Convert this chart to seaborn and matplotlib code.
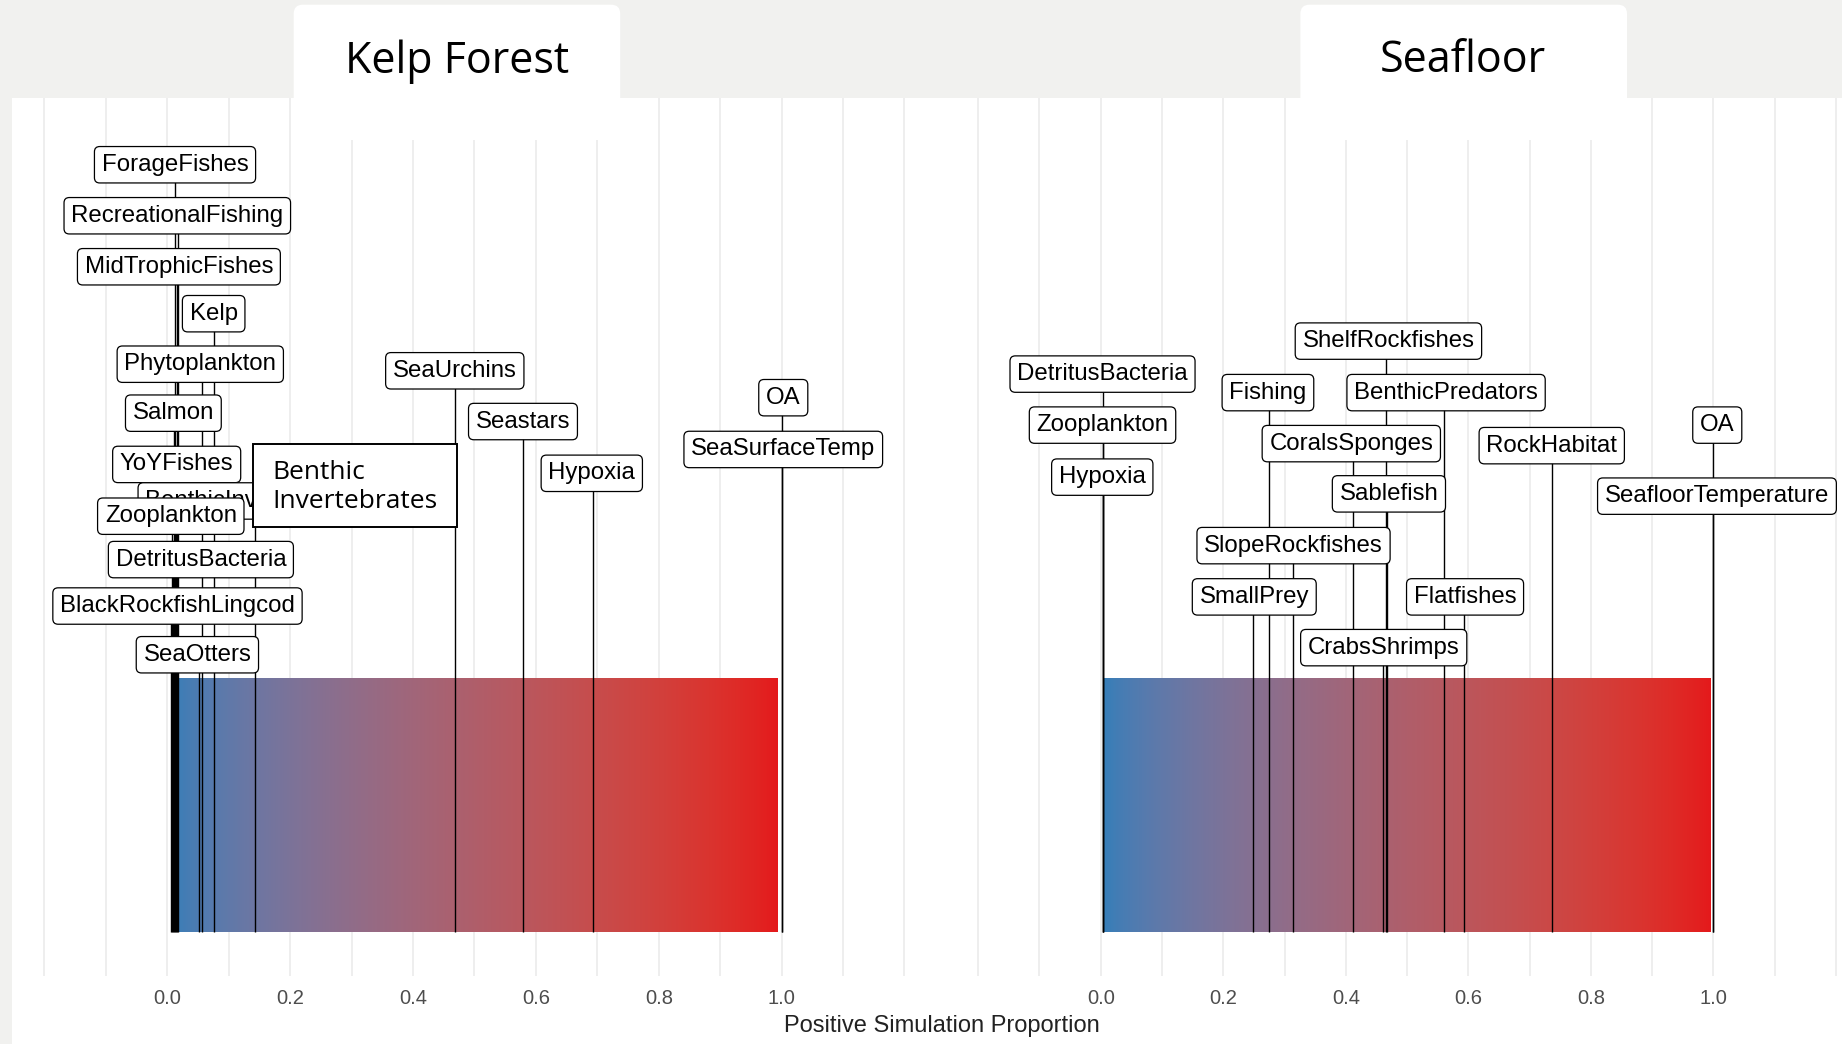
import numpy as np
import pandas as pd
import matplotlib
matplotlib.use("Agg")
import matplotlib.pyplot as plt
import matplotlib.patches as mpatches
import matplotlib.transforms as mtransforms
import seaborn as sns

# --- DATA ---
panel_titles = ["Kelp Forest", "Seafloor"]

kelp_nodes = ["ForageFishes", "RecreationalFishing", "MidTrophicFishes", "Kelp",
              "Phytoplankton", "Salmon", "YoYFishes", "BenthicInvertebrates",
              "Zooplankton", "DetritusBacteria", "BlackRockfishLingcod", "SeaOtters",
              "SeaUrchins", "Seastars", "Hypoxia", "OA", "SeaSurfaceTemp"]
kelp_values = [0.0125, 0.018, 0.0165, 0.076,
               0.056, 0.011, 0.014, 0.143,
               0.008, 0.0095, 0.006, 0.051,
               0.468, 0.579, 0.693, 1.0, 1.0]
# label anchor of each repelled label (x in data units, height above the bar)
kelp_label_x = [0.0126, 0.0163, 0.0189, 0.0755,
                0.0537, 0.0099, 0.0153, 0.143,
                0.0057, 0.0547, 0.0166, 0.049,
                0.468, 0.579, 0.691, 1.0027, 1.0027]
kelp_label_y = [3.022, 2.821, 2.620, 2.435,
                2.236, 2.043, 1.841, 1.697,
                1.637, 1.466, 1.283, 1.091,
                2.210, 2.010, 1.806, 2.104, 1.900]

sea_nodes = ["ShelfRockfishes", "DetritusBacteria", "Fishing", "BenthicPredators",
             "Zooplankton", "CoralsSponges", "RockHabitat", "OA", "Hypoxia",
             "Sablefish", "SeafloorTemperature", "SlopeRockfishes", "SmallPrey",
             "Flatfishes", "CrabsShrimps"]
sea_values = [0.466, 0.003, 0.274, 0.561,
              0.003, 0.411, 0.737, 1.0, 0.003,
              0.468, 1.0, 0.314, 0.249,
              0.593, 0.460]
sea_label_x = [0.4696, 0.0029, 0.2729, 0.5637,
               0.0029, 0.409, 0.7362, 1.0064, 0.0025,
               0.4704, 1.0059, 0.3147, 0.2506,
               0.5947, 0.4619]
sea_label_y = [2.327, 2.197, 2.124, 2.124,
               1.996, 1.923, 1.915, 1.996, 1.791,
               1.725, 1.716, 1.521, 1.319,
               1.319, 1.119]

x_ticks = [0.0, 0.2, 0.4, 0.6, 0.8, 1.0]
x_tick_labels = ["0.0", "0.2", "0.4", "0.6", "0.8", "1.0"]
x_grid = [-0.2, -0.1, 0.0, 0.1, 0.2, 0.3, 0.4, 0.5, 0.6, 0.7, 0.8, 0.9, 1.0, 1.1, 1.2]
x_label = "Positive Simulation Proportion"
callout_text = "Benthic\nInvertebrates"

gradient_low = "#377eb8"
gradient_high = "#e41a1c"

# --- COLOUR RAMP (interpolated in CIELAB like ggplot) ---
M_RGB2XYZ = np.array([[0.4124564, 0.3575761, 0.1804375],
                      [0.2126729, 0.7151522, 0.0721750],
                      [0.0193339, 0.1191920, 0.9503041]])
WHITE = np.array([0.95047, 1.0, 1.08883])


def to_lab(hexcol):
    rgb = np.array(matplotlib.colors.to_rgb(hexcol))
    lin = np.where(rgb <= 0.04045, rgb / 12.92, ((rgb + 0.055) / 1.055) ** 2.4)
    t = (M_RGB2XYZ @ lin) / WHITE
    f = np.where(t > (6 / 29) ** 3, np.cbrt(t), t / (3 * (6 / 29) ** 2) + 4 / 29)
    return np.array([116 * f[1] - 16, 500 * (f[0] - f[1]), 200 * (f[1] - f[2])])


def from_lab(lab):
    L, a, b = lab
    fy = (L + 16) / 116
    f = np.array([fy + a / 500, fy, fy - b / 200])
    t = np.where(f > 6 / 29, f ** 3, 3 * (6 / 29) ** 2 * (f - 4 / 29))
    lin = np.linalg.inv(M_RGB2XYZ) @ (t * WHITE)
    lin = np.clip(lin, 0, None)
    rgb = np.where(lin <= 0.0031308, 12.92 * lin, 1.055 * lin ** (1 / 2.4) - 0.055)
    return tuple(np.clip(rgb, 0, 1))


lab_lo, lab_hi = to_lab(gradient_low), to_lab(gradient_high)
ramp = [from_lab(lab_lo + (lab_hi - lab_lo) * s) for s in np.linspace(0, 1, 64)]

sns.set_theme(style="white")
cmap = sns.blend_palette(ramp, as_cmap=True)
LABEL_FONT = ["Liberation Sans", "DejaVu Sans"]
TITLE_FONT = ["Open Sans", "DejaVu Sans"]
plt.rcParams["font.family"] = LABEL_FONT

W, H = 1842, 1044
BG = "#f1f1ef"
fig = plt.figure(figsize=(W / 100, H / 100), dpi=100, facecolor=BG)
ident = mtransforms.IdentityTransform()

# white plotting area
fig.add_artist(mpatches.Rectangle((12, 0), W, H - 97.5, transform=ident,
                                  facecolor="white", edgecolor="none", zorder=0))

# title tabs
tab_boxes = [(293.7, 620.2), (1300.4, 1627.0)]
tab_centres = [457, 1463]
for (x0, x1), xc, title in zip(tab_boxes, tab_centres, panel_titles):
    fig.add_artist(mpatches.FancyBboxPatch((x0, H - 140), x1 - x0, 135.3,
                                           boxstyle="round,pad=0,rounding_size=9",
                                           transform=ident, facecolor="white",
                                           edgecolor="none", zorder=0.5))
    fig.text(xc / W, 1 - 72.5 / H, title, ha="center", va="baseline",
             fontsize=31, family=TITLE_FONT, color="black")

ax_bottom = (H - 976) / H
ax_height = (976 - 97.5) / H
ax_left = fig.add_axes([13.7 / W, ax_bottom, 921.5 / W, ax_height])
ax_right = fig.add_axes([947.6 / W, ax_bottom, 918.9 / W, ax_height])

panels = [
    (ax_left, kelp_nodes, kelp_values, kelp_label_x, kelp_label_y, (0.006, 0.993)),
    (ax_right, sea_nodes, sea_values, sea_label_x, sea_label_y, (0.006, 0.996)),
]

for ax, nodes, values, lx, ly, (bar_lo, bar_hi) in panels:
    df = pd.DataFrame({"node": nodes, "value": values, "lx": lx, "ly": ly})
    ax.set_facecolor("none")

    # gradient bar
    ax.imshow(np.linspace(0, 1, 512)[None, :], extent=(bar_lo, bar_hi, 0, 1),
              aspect="auto", cmap=cmap, interpolation="bilinear", zorder=1)

    # segments from the bar up to each label
    ax.vlines(df["value"], 0, df["ly"], colors="black", lw=1.0, zorder=2)

    # labels
    for i, row in df.iterrows():
        ax.text(row["lx"], row["ly"], row["node"], ha="center", va="center",
                fontsize=17.3, color="black", zorder=3 + i * 0.01,
                bbox=dict(boxstyle="round,pad=0.3,rounding_size=0.22",
                          facecolor="white", edgecolor="black", linewidth=0.9))

    ax.set_xlim(-0.25, 1.25)
    ax.set_ylim(-0.175, 3.287)
    ax.set_xticks(x_ticks)
    ax.set_xticklabels(x_tick_labels, fontsize=14.5, color="#4d4d4d")
    ax.set_xticks([g for g in x_grid if g not in x_ticks], minor=True)
    ax.grid(True, which="both", axis="x", color="#ebebeb", linewidth=1.2, zorder=0)
    ax.grid(False, axis="y")
    ax.set_axisbelow(True)
    ax.set_yticks([])
    ax.tick_params(axis="x", which="both", length=0, pad=9)
    for sp in ax.spines.values():
        sp.set_visible(False)

# hand-placed callout over the crowded kelp labels
ax_left.add_patch(mpatches.Rectangle((0.1389, 1.593), 0.3327, 0.329,
                                     facecolor="white", edgecolor="black",
                                     linewidth=1.4, zorder=5))
ax_left.text(0.171, 1.752, callout_text, ha="left", va="center", fontsize=19,
             family=TITLE_FONT, linespacing=1.25, color="black", zorder=6)

fig.text(942 / W, 1 - 1026 / H, x_label, ha="center", va="center",
         fontsize=17, color="#222222")

fig.savefig("out.png", dpi=100, facecolor=BG)
